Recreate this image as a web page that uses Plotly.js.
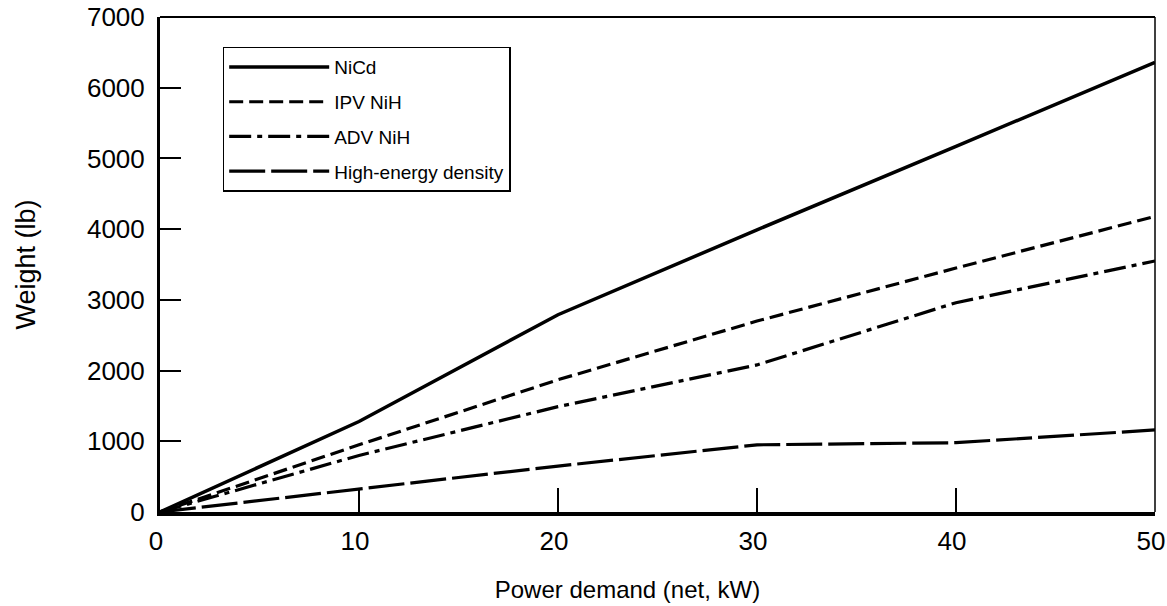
<!DOCTYPE html>
<html>
<head>
<meta charset="utf-8">
<script src="https://cdn.plot.ly/plotly-3.0.1.min.js"></script>
<style>html,body{margin:0;padding:0;background:#fff}#chart{width:1167px;height:606px}</style>
</head>
<body>
<div id="chart"></div>
<script>
var powerDemand = [0, 10, 20, 30, 40, 50];
var nicd = [0, 1280, 2790, 3990, 5170, 6360];
var ipvNiH = [0, 950, 1870, 2700, 3450, 4180];
var advNiH = [0, 800, 1490, 2080, 2960, 3550];
var highEnergy = [0, 330, 650, 950, 980, 1160];
var seriesNames = ['NiCd', 'IPV NiH', 'ADV NiH', 'High-energy density'];
var xTicks = [0, 10, 20, 30, 40, 50];
var yTicks = [0, 1000, 2000, 3000, 4000, 5000, 6000, 7000];
var xTitle = 'Power demand (net, kW)';
var yTitle = 'Weight (lb)';

var FONT = 'Liberation Sans, Arial, Helvetica, sans-serif';
var seriesData = [nicd, ipvNiH, advNiH, highEnergy];
var dashes = ['solid', '14px,6px', '22px,6px,5px,6px', '36px,6px'];
var widths = [3.5, 3.2, 3.2, 3.2];
var PAD = function (n) { return '\u00a0'.repeat(n) + '\u200b'; };

var traces = seriesData.map(function (ys, i) {
  return {
    x: powerDemand, y: ys, type: 'scatter', mode: 'lines',
    name: seriesNames[i], legendgroup: 'g' + i,
    line: {color: '#000', width: widths[i], dash: dashes[i]},
    hoverinfo: 'skip'
  };
});

var layout = {
  width: 1167, height: 606,
  margin: {l: 160, r: 12, t: 17, b: 94},
  paper_bgcolor: '#fff', plot_bgcolor: '#fff',
  font: {family: FONT, color: '#000', size: 24},
  showlegend: true,
  legend: {
    x: 0.063, y: 0.94, xanchor: 'left', yanchor: 'top',
    bgcolor: '#fff', bordercolor: '#000', borderwidth: 1.5,
    font: {family: FONT, size: 19, color: '#000'},
    itemwidth: 100, tracegroupgap: 7,
    traceorder: 'grouped'
  },
  xaxis: {
    range: [0, 50], tickvals: xTicks, ticktext: xTicks.map(String),
    ticks: 'inside', ticklen: 24, tickwidth: 1.5, tickcolor: '#000',
    showline: true, linecolor: '#000', linewidth: 4,
    showgrid: false, zeroline: false,
    ticklabeloverflow: 'allow', ticklabelstandoff: 3, ticklabelshift: -4,
    tickfont: {family: FONT, size: 26},
    title: {text: xTitle + PAD(9), font: {family: FONT, size: 24}, standoff: 27}
  },
  yaxis: {
    range: [0, 7000], tickvals: yTicks, ticktext: yTicks.map(String),
    ticks: 'inside', ticklen: 21, tickwidth: 2, tickcolor: '#000',
    showline: true, linecolor: '#000', linewidth: 3,
    showgrid: false, zeroline: false,
    ticklabelstandoff: 7,
    tickfont: {family: FONT, size: 26},
    title: {text: yTitle, font: {family: FONT, size: 27}, standoff: 44}
  },
  shapes: [
    {type: 'line', xref: 'paper', yref: 'paper', x0: 0, x1: 1, y0: 1, y1: 1, line: {color: '#000', width: 2}},
    {type: 'line', xref: 'paper', yref: 'paper', x0: 1, x1: 1, y0: 0, y1: 1, line: {color: '#000', width: 1.5}}
  ]
};

Plotly.newPlot('chart', traces, layout, {displayModeBar: false, staticPlot: true});
</script>
</body>
</html>
